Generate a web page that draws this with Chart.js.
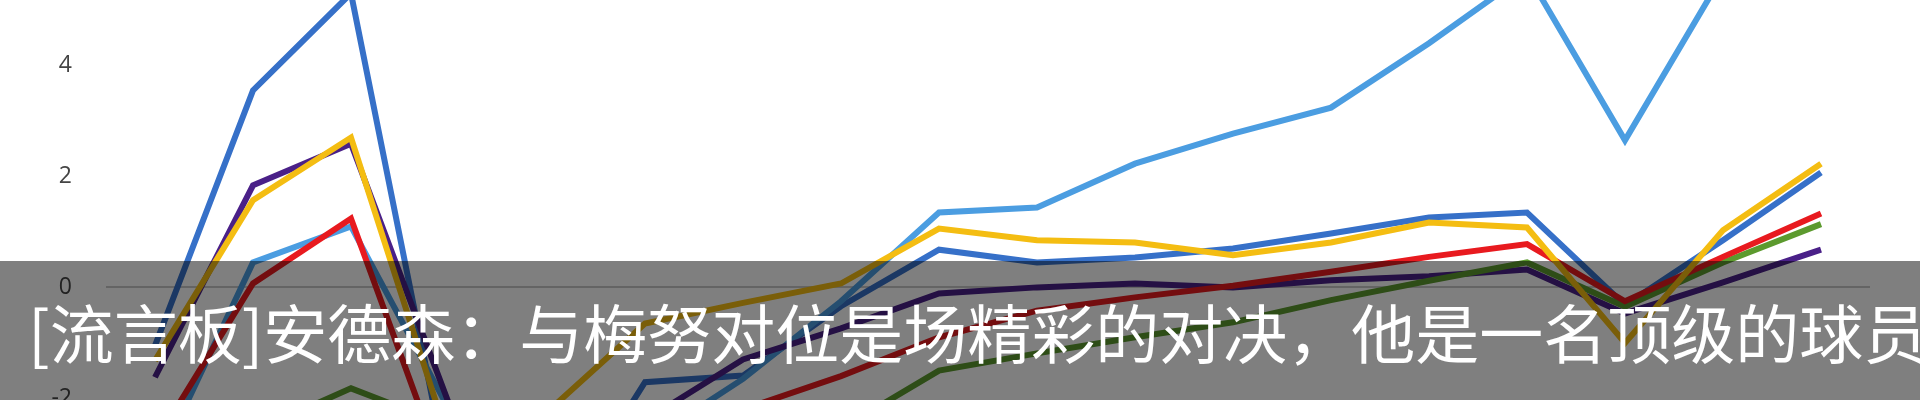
<!DOCTYPE html>
<html>
<head>
<meta charset="utf-8">
<script src="https://cdn.jsdelivr.net/npm/chart.js@4/dist/chart.umd.min.js"></script>
<style>
  html, body { margin: 0; padding: 0; background: #fff; }
  #wrap { position: relative; width: 1920px; height: 400px; overflow: hidden; }
  #caption {
    position: absolute; left: 0; top: 261px; width: 1920px; height: 139px;
    background: rgba(0, 0, 0, 0.5); color: #fff;
    font-family: "Noto Sans CJK SC", sans-serif; font-size: 64px;
    line-height: 139px; white-space: nowrap; overflow: hidden;
    box-sizing: border-box; padding-left: 28px;
  }
</style>
</head>
<body>
<div id="wrap">
  <canvas id="lineChart" width="1920" height="400"></canvas>
  <div id="caption">[流言板]安德森：与梅努对位是场精彩的对决，他是一名顶级的球员</div>
</div>
<script>
var games = ["1", "2", "3", "4", "5", "6", "7", "8", "9", "10", "11", "12", "13", "14", "15", "16", "17", "18"];
var yTicks = [-2, 0, 2, 4];

var lightBlueData = [-3.3, 0.45, 1.1, -2.2, -3.1, -2.8, -1.65, -0.25, 1.35, 1.44, 2.23, 2.77, 3.24, 4.4, 5.66, 2.65, 5.64, 6.0];
var darkBlueData = [-1.05, 3.55, 5.3, -3.5, -4.5, -1.71, -1.59, -0.34, 0.68, 0.45, 0.54, 0.7, 0.97, 1.26, 1.35, -0.32, 0.85, 2.07];
var yellowData = [-1.32, 1.57, 2.7, -2.8, -2.25, -0.65, -0.28, 0.07, 1.06, 0.85, 0.81, 0.58, 0.81, 1.17, 1.08, -1.0, 1.03, 2.23];
var purpleData = [-1.62, 1.84, 2.59, -2.1, -2.6, -2.4, -1.3, -0.74, -0.11, 0.0, 0.07, 0.0, 0.13, 0.2, 0.32, -0.47, 0.09, 0.68];
var redData = [-2.8, 0.07, 1.24, -3.6, -3.5, -3.2, -2.2, -1.6, -0.9, -0.42, -0.18, 0.03, 0.28, 0.55, 0.78, -0.25, 0.55, 1.33];
var greenData = [-3.0, -2.6, -1.82, -2.5, -3.3, -3.2, -3.0, -2.55, -1.5, -1.19, -0.9, -0.63, -0.23, 0.12, 0.45, -0.35, 0.45, 1.14];

function makeLine(data, color) {
    return {
        data: data,
        borderColor: color,
        backgroundColor: color,
        borderWidth: 6,
        pointRadius: 0,
        tension: 0,
        fill: false
    };
}

var chart = document.getElementById("lineChart");

// first dataset is drawn on top
let myChart = new Chart(chart, {
    type: 'line',
    data: {
        labels: games,
        datasets: [
            makeLine(yellowData, "#f4bd12"),
            makeLine(redData, "#e81a1f"),
            makeLine(greenData, "#5c9a2e"),
            makeLine(purpleData, "#4a2088"),
            makeLine(lightBlueData, "#4b9de1"),
            makeLine(darkBlueData, "#3670c8")
        ]
    },
    options: {
        responsive: false,
        animation: false,
        layout: { padding: { left: 0, right: 50, top: 0, bottom: 0 } },
        plugins: { legend: { display: false }, tooltip: { enabled: false } },
        scales: {
            x: { display: false, offset: true },
            y: {
                min: -2.03,
                max: 5.18,
                border: { display: false },
                grid: {
                    drawTicks: false,
                    lineWidth: 2,
                    color: function (ctx) {
                        return ctx.tick && ctx.tick.value === 0 ? "#c8c8c8" : "rgba(0,0,0,0)";
                    }
                },
                afterBuildTicks: function (scale) {
                    scale.ticks = yTicks.map(function (v) { return { value: v }; });
                },
                afterFit: function (scale) {
                    scale.width = 106;
                    scale.paddingTop = 0;
                    scale.paddingBottom = 0;
                },
                ticks: {
                    padding: 34,
                    color: "#444",
                    font: { family: "Open Sans", size: 23 }
                }
            }
        }
    }
});
</script>
</body>
</html>
